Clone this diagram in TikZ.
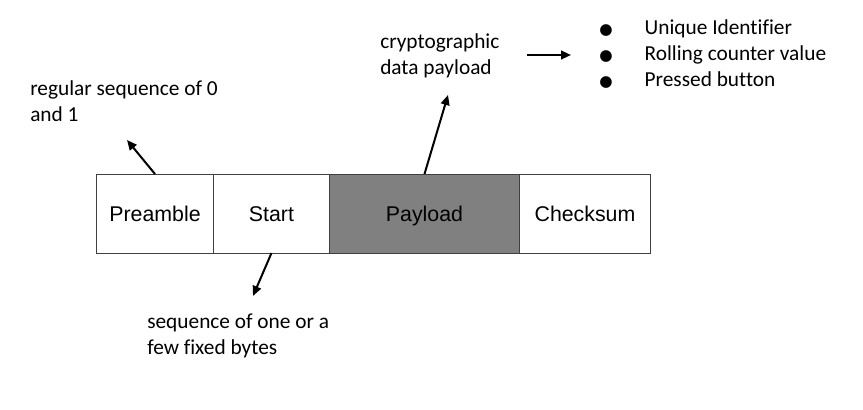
\documentclass[tikz,border=0pt]{standalone}
\usepackage{fontspec}
\setmainfont{Carlito}[Ligatures=CommonOff]
\newfontfamily\arialfont{Liberation Sans}
\newfontfamily\dotfont{DejaVu Sans}
\usetikzlibrary{positioning,arrows.meta}

\begin{document}
\begin{tikzpicture}[x=0.75pt,y=-0.75pt,
  >={Triangle[length=7.5pt,width=6.5pt]},
  field/.style={draw=black!75,line width=0.75pt,minimum height=59.25pt,
    outer sep=0pt,inner sep=0pt,text height=11.5pt,text depth=0pt,
    font=\arialfont\fontsize{16}{19}\selectfont},
  note/.style={align=left,inner sep=0pt,font=\fontsize{16}{19.5}\selectfont},
  pointer/.style={->,line width=1.5pt}]
\useasboundingbox (0,0) rectangle (863,410);

% the frame fields
\node[field,minimum width=87.75pt,anchor=west] (pre) at (96.5,213.5) {Preamble};
\node[field,minimum width=87pt,right=0pt of pre] (start) {Start};
\node[field,minimum width=142.5pt,fill=black!50,right=0pt of start] (pay) {Payload};
\node[field,minimum width=98.25pt,right=0pt of pay] (chk) {Checksum};

% notes
\node[note,anchor=north west] (regular) at (30,80) {regular sequence of 0\\and 1};
\node[note,anchor=north west] (crypto) at (380,33) {cryptographic\\data payload};
\node[note,anchor=north west] (fixed) at (147,314) {sequence of one or a\\few fixed bytes};
\node[inner sep=0pt,anchor=base west,font=\fontsize{16}{19.5}\selectfont] (items) at (599,35)
  {\begin{tabular}[t]{@{}l@{\hspace{24pt}}l@{}}
   {\dotfont\fontsize{11.5}{12}\selectfont ●} & Unique Identifier\\
   {\dotfont\fontsize{11.5}{12}\selectfont ●} & Rolling counter value\\
   {\dotfont\fontsize{11.5}{12}\selectfont ●} & Pressed button
   \end{tabular}};

% pointers
\coordinate (regtip) at (127,140);
\coordinate (fixtip) at (253,296);
\coordinate (cryptip) at (448,95);
\coordinate (listfrom) at (527,55);
\coordinate (listto) at (571,55);
\draw[pointer] (pre.north) -- (regtip);
\draw[pointer] (start.south) -- (fixtip);
\draw[pointer] (pay.north) -- (cryptip);
\draw[pointer] (listfrom) -- (listto);
\end{tikzpicture}
\end{document}
